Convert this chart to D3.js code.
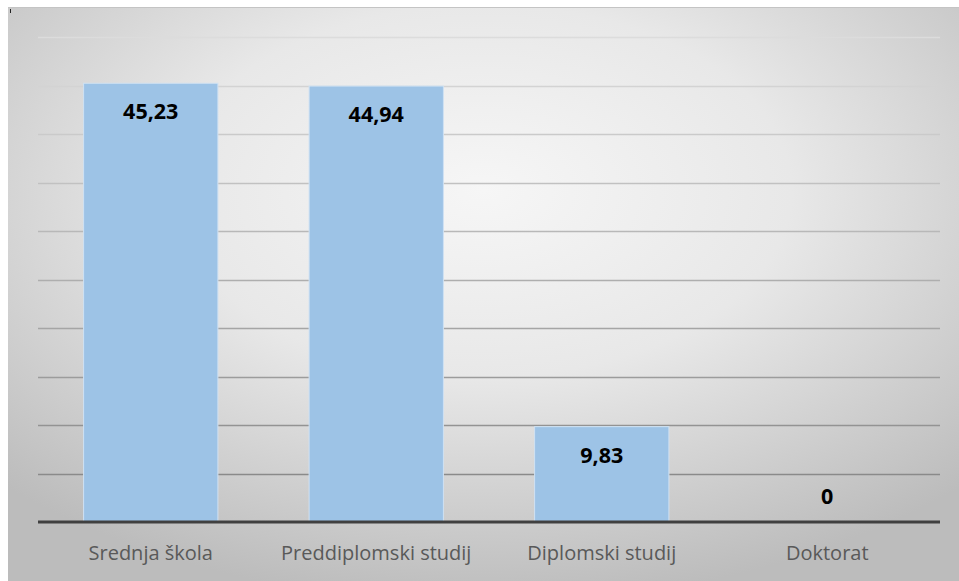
<!DOCTYPE html>
<html><head><meta charset="utf-8">
<script src="https://cdn.jsdelivr.net/npm/d3@7"></script>
<style>html,body{margin:0;padding:0;background:#fff;}svg{display:block;}</style>
</head><body>
<svg id="chart" width="959" height="581"></svg>
<script>
const categories = ["Srednja škola", "Preddiplomski studij", "Diplomski studij", "Doktorat"];
const values = [45.23, 44.94, 9.83, 0];
const valueLabels = ["45,23", "44,94", "9,83", "0"];
const gridTicks = [5, 10, 15, 20, 25, 30, 35, 40, 45, 50];

const W = 959, H = 581;
const svg = d3.select("#chart");
const defs = svg.append("defs");
const rg = defs.append("radialGradient").attr("id", "bg")
  .attr("cx", "50%").attr("cy", "32%").attr("r", "72%")
  .attr("gradientUnits", "objectBoundingBox");
rg.append("stop").attr("offset", "0%").attr("stop-color", "#f6f6f6");
rg.append("stop").attr("offset", "45%").attr("stop-color", "#e8e8e8");
rg.append("stop").attr("offset", "100%").attr("stop-color", "#bcbcbc");

svg.append("rect").attr("x", 8).attr("y", 7).attr("width", W - 8).attr("height", H - 7)
  .attr("fill", "url(#bg)");
svg.append("line").attr("x1", 8).attr("x2", W).attr("y1", 7.5).attr("y2", 7.5)
  .attr("stroke", "#c4c4c4").attr("stroke-width", 1);
svg.append("line").attr("x1", 10.5).attr("x2", 10.5).attr("y1", 9).attr("y2", 13)
  .attr("stroke", "#222").attr("stroke-width", 1);

const x = d3.scaleBand().domain(categories).range([38, 940]).paddingInner(0.4).paddingOuter(0.2);
const y = d3.scaleLinear().domain([0, 50]).range([522, 37]);

const gridColor = d3.scaleLinear().domain([50, 5]).range(["#dcdcdc", "#8a8a8a"]);
svg.append("g").selectAll("line").data(gridTicks).join("line")
  .attr("x1", 38).attr("x2", 940)
  .attr("y1", d => Math.round(y(d)) + 0.5).attr("y2", d => Math.round(y(d)) + 0.5)
  .attr("stroke", d => gridColor(d)).attr("stroke-width", 1.4);

const data = categories.map((c, i) => ({c, v: values[i], l: valueLabels[i]}));

svg.append("g").selectAll("rect").data(data).join("rect")
  .attr("x", d => x(d.c) + 0.5).attr("width", x.bandwidth() - 1)
  .attr("y", d => y(d.v)).attr("height", d => y(0) - y(d.v))
  .attr("fill", "#9dc3e6").attr("stroke", "#cfe2f3").attr("stroke-width", 1)
  .style("display", d => d.v > 0 ? null : "none");

svg.append("line").attr("x1", 38).attr("x2", 940).attr("y1", y(0)).attr("y2", y(0))
  .attr("stroke", "#404040").attr("stroke-width", 3);

svg.append("g").selectAll("text").data(data).join("text")
  .attr("x", d => x(d.c) + x.bandwidth() / 2)
  .attr("y", d => d.v > 0 ? y(d.v) + 36 : y(0) - 18)
  .attr("text-anchor", "middle")
  .attr("font-family", "'Open Sans', sans-serif").attr("font-weight", "bold")
  .attr("font-size", 21.5).attr("fill", "#000")
  .text(d => d.l);

const xAxis = d3.axisBottom(x).tickSize(0).tickPadding(0);
const gx = svg.append("g").attr("transform", `translate(0,${y(0)})`).call(xAxis);
gx.select(".domain").remove();
gx.selectAll("text")
  .attr("y", 38).attr("dy", 0)
  .attr("font-family", "'Open Sans', sans-serif").attr("font-size", 20)
  .attr("fill", "#595959");
</script>
</body></html>
